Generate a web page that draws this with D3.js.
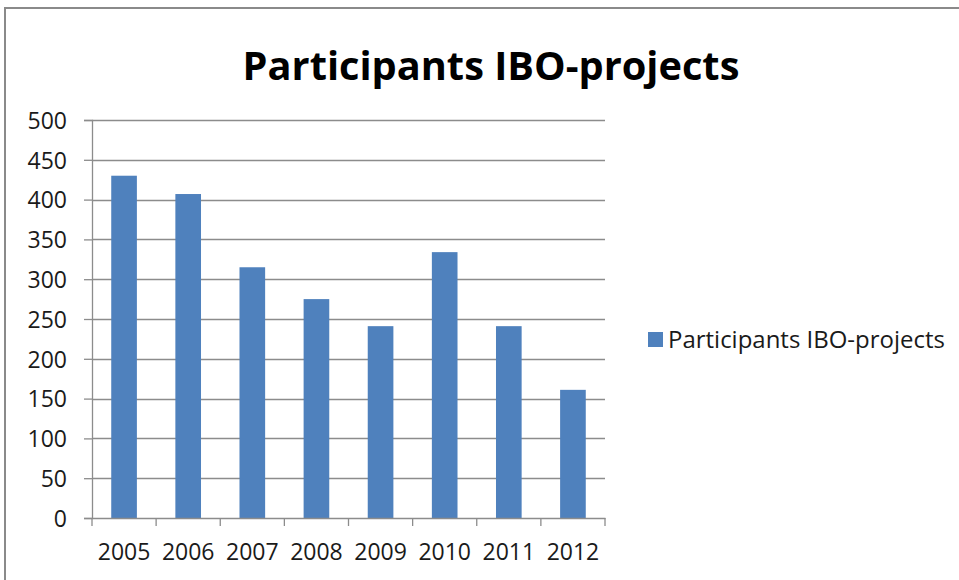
<!DOCTYPE html>
<html><head><meta charset="utf-8">
<script src="https://cdn.jsdelivr.net/npm/d3@7"></script>
<style>body{margin:0;background:#fff;} svg{display:block;}</style>
</head><body>
<script>
const title = "Participants IBO-projects";
const seriesName = "Participants IBO-projects";
const years = ["2005","2006","2007","2008","2009","2010","2011","2012"];
const participants = [430, 407, 315, 275, 241, 334, 241, 161];
const yTicks = [0,50,100,150,200,250,300,350,400,450,500];

const W = 959, H = 580;
const svg = d3.select("body").append("svg").attr("width", W).attr("height", H);
svg.append("rect").attr("width", W).attr("height", H).attr("fill", "#fff");

// outer chart border (extends past the window on right/bottom)
svg.append("rect").attr("x", 5).attr("y", 8).attr("width", 1000).attr("height", 1000)
  .attr("fill", "none").attr("stroke", "#8a8a8a").attr("stroke-width", 2);

const font = "'Open Sans', 'Liberation Sans', sans-serif";
const pLeft = 92, pRight = 605, pTop = 120, pBottom = 518;

const x = d3.scaleBand().domain(years).range([pLeft, pRight]).paddingInner(0.6).paddingOuter(0.3);
const xb = d3.scaleBand().domain(years).range([pLeft, pRight]);
const y = d3.scaleLinear().domain([0, 500]).range([pBottom, pTop]);

// gridlines
svg.append("g").selectAll("line").data(yTicks.filter(d => d > 0)).join("line")
  .attr("x1", pLeft).attr("x2", pRight)
  .attr("y1", d => Math.round(y(d)) + 0.5).attr("y2", d => Math.round(y(d)) + 0.5)
  .attr("stroke", "#8c8c8c").attr("stroke-width", 1.3);

// bars
svg.append("g").selectAll("rect").data(years).join("rect")
  .attr("x", d => x(d)).attr("width", x.bandwidth())
  .attr("y", (d, i) => y(participants[i])).attr("height", (d, i) => y(0) - y(participants[i]))
  .attr("fill", "#4f81bd");

// y axis
const yAxis = d3.axisLeft(y).tickValues(yTicks).tickSize(8).tickPadding(17);
const gy = svg.append("g").attr("transform", `translate(${pLeft},0)`).call(yAxis);
gy.select(".domain").attr("stroke", "#8c8c8c").attr("stroke-width", 1.3);
gy.selectAll(".tick line").attr("stroke", "#8c8c8c").attr("stroke-width", 1.3);
gy.selectAll(".tick text").attr("font-family", font).attr("font-size", 23).attr("fill", "#1a1a1a").attr("dy", "0.36em");

// x axis
const gx = svg.append("g").attr("transform", `translate(0,${pBottom})`)
  .call(d3.axisBottom(xb).tickSize(0).tickPadding(26));
gx.select(".domain").attr("stroke", "#8c8c8c").attr("stroke-width", 1.3);
gx.selectAll(".tick text").attr("font-family", font).attr("font-size", 23).attr("fill", "#1a1a1a").attr("dy", "0.71em");
// category boundary ticks
svg.append("g").selectAll("line").data(years.concat(["end"])).join("line")
  .attr("x1", (d, i) => i < years.length ? xb(d) : pRight)
  .attr("x2", (d, i) => i < years.length ? xb(d) : pRight)
  .attr("y1", pBottom).attr("y2", pBottom + 8)
  .attr("stroke", "#8c8c8c").attr("stroke-width", 1.3);

// title
const t = svg.append("text").attr("x", 491).attr("y", 80).attr("text-anchor", "middle")
  .attr("font-family", font).attr("font-weight", "bold").attr("font-size", 46).attr("fill", "#000").text(title);
const tw = t.node().getComputedTextLength();
t.attr("font-size", 46 * 497 / tw);

// legend
svg.append("rect").attr("x", 648).attr("y", 332).attr("width", 15).attr("height", 15).attr("fill", "#4f81bd");
const lt = svg.append("text").attr("x", 668).attr("y", 348).attr("font-family", font).attr("font-size", 22)
  .attr("fill", "#1a1a1a").text(seriesName);
const lw = lt.node().getComputedTextLength();
lt.attr("font-size", 22 * 277 / lw);
</script>
</body></html>
